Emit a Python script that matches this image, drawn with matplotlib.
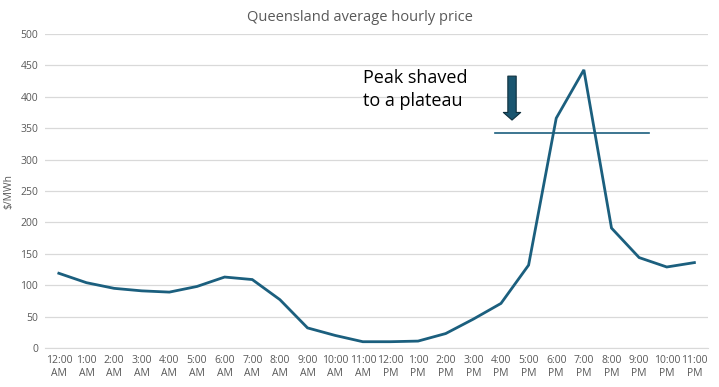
import numpy as np
import matplotlib
matplotlib.use("Agg")
import matplotlib.pyplot as plt

plt.rcParams['font.family'] = ['Open Sans', 'DejaVu Sans']

hours = ["12:00\nAM", "1:00\nAM", "2:00\nAM", "3:00\nAM", "4:00\nAM", "5:00\nAM",
         "6:00\nAM", "7:00\nAM", "8:00\nAM", "9:00\nAM", "10:00\nAM", "11:00\nAM",
         "12:00\nPM", "1:00\nPM", "2:00\nPM", "3:00\nPM", "4:00\nPM", "5:00\nPM",
         "6:00\nPM", "7:00\nPM", "8:00\nPM", "9:00\nPM", "10:00\nPM", "11:00\nPM"]
price = [119, 104, 95, 91, 89, 98, 113, 109, 77, 32, 20, 10,
         10, 11, 23, 46, 71, 132, 366, 443, 191, 144, 129, 136]

plateau = 342
plateau_span = [15.8, 21.35]
arrow_x = 16.4
arrow_top, arrow_bottom = 433, 363

line_col = "#1b5f7e"
grey = "#595959"

fig = plt.figure(figsize=(7.19, 3.87), dpi=100)
ax = fig.add_axes([0.0626, 0.1008, 0.9224, 0.8112])

x = np.arange(len(price))
ax.plot(x, price, color=line_col, linewidth=2, solid_joinstyle="miter")

# the flat line where the peak gets cut
ax.plot(plateau_span, [plateau, plateau], color=line_col, linewidth=1.2)

ax.annotate("", xy=(arrow_x, arrow_bottom), xytext=(arrow_x, arrow_top),
            arrowprops=dict(arrowstyle="simple,head_width=1.25,head_length=0.55,tail_width=0.6",
                            facecolor="#1a5670", edgecolor="#0e2f3d", linewidth=0.8,
                            shrinkA=0, shrinkB=0))

ax.text(11.0, 412, "Peak shaved\nto a plateau", fontsize=13, color="black",
        va="center", ha="left", linespacing=1.35)

ax.set_xlim(-0.5, 23.5)
ax.set_ylim(0, 500)
ax.set_yticks(np.arange(0, 501, 50))
ax.set_xticks(x)
ax.set_xticklabels(hours)
ax.tick_params(axis="both", length=0, labelsize=7.5, colors=grey, pad=5)
ax.grid(axis="y", color="#d9d9d9", linewidth=0.9)
ax.set_axisbelow(True)
for s in ["top", "right", "left"]:
    ax.spines[s].set_visible(False)
ax.spines["bottom"].set_color("#d9d9d9")

fig.text(0.012, 0.505, "$/MWh", rotation=90, ha="center", va="center",
         fontsize=7.5, color=grey)
fig.text(0.5, 0.955, "Queensland average hourly price", ha="center", va="center",
         fontsize=10.5, color=grey)

fig.savefig("out.png", dpi=100)
